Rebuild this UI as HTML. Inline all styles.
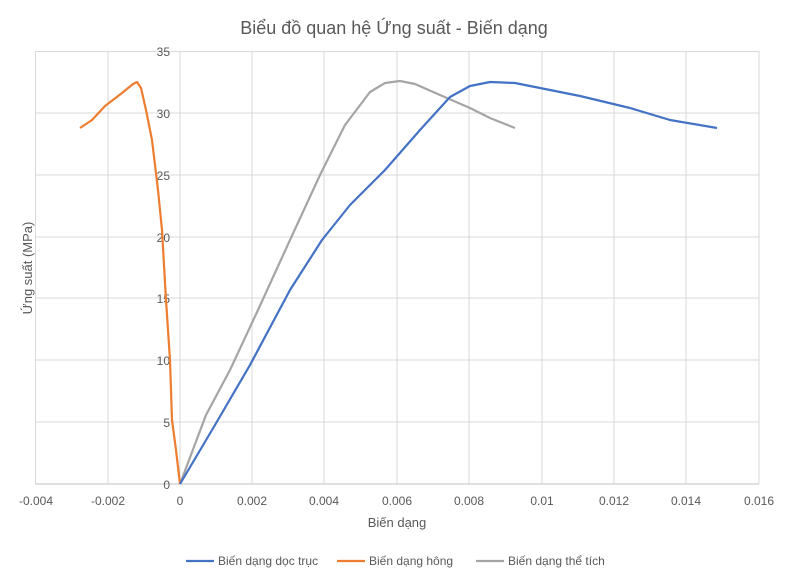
<!DOCTYPE html>
<html><head><meta charset="utf-8"><style>
body{margin:0;background:#fff;}
svg text{font-family:"Liberation Sans",sans-serif;fill:#595959;}
</style></head><body>
<svg width="788" height="579" xmlns="http://www.w3.org/2000/svg">
<rect width="788" height="579" fill="#fff"/>
<text x="394" y="34" font-size="18" text-anchor="middle">Biểu đồ quan hệ Ứng suất - Biến dạng</text>
<g stroke="#d9d9d9" stroke-width="1">
<line x1="35.5" y1="51" x2="35.5" y2="484"/><line x1="108" y1="51" x2="108" y2="484"/>
<line x1="252" y1="51" x2="252" y2="484"/><line x1="324" y1="51" x2="324" y2="484"/>
<line x1="397" y1="51" x2="397" y2="484"/><line x1="469" y1="51" x2="469" y2="484"/>
<line x1="542" y1="51" x2="542" y2="484"/><line x1="614" y1="51" x2="614" y2="484"/>
<line x1="686" y1="51" x2="686" y2="484"/><line x1="759" y1="51" x2="759" y2="484"/>
<line x1="35" y1="51.5" x2="759" y2="51.5"/><line x1="35" y1="113" x2="759" y2="113"/>
<line x1="35" y1="175" x2="759" y2="175"/><line x1="35" y1="237" x2="759" y2="237"/>
<line x1="35" y1="298" x2="759" y2="298"/><line x1="35" y1="360" x2="759" y2="360"/>
<line x1="35" y1="422" x2="759" y2="422"/>
<line x1="180" y1="51" x2="180" y2="484"/>
</g>
<line x1="35" y1="484" x2="759" y2="484" stroke="#bfbfbf"/>
<g font-size="12" text-anchor="end">
<text x="170" y="56">35</text><text x="170" y="118">30</text><text x="170" y="180">25</text>
<text x="170" y="242">20</text><text x="170" y="303">15</text><text x="170" y="365">10</text>
<text x="170" y="427">5</text><text x="170" y="489">0</text>
</g>
<g font-size="12" text-anchor="middle">
<text x="36" y="505">-0.004</text><text x="108" y="505">-0.002</text><text x="180" y="505">0</text>
<text x="252" y="505">0.002</text><text x="324" y="505">0.004</text><text x="397" y="505">0.006</text>
<text x="469" y="505">0.008</text><text x="542" y="505">0.01</text><text x="614" y="505">0.012</text>
<text x="686" y="505">0.014</text><text x="759" y="505">0.016</text>
</g>
<text x="397" y="527" font-size="13" text-anchor="middle">Biến dạng</text>
<text transform="translate(32,268) rotate(-90)" font-size="13" text-anchor="middle">Ứng suất (MPa)</text>
<g fill="none" stroke-width="2.2" stroke-linejoin="round">
<polyline stroke="#a5a5a5" points="180,484 206,415 230,370 258,310 290,240 320,175 345,125 370,92 385,83 400,81 415,84 440,95 470,108 490,118 515,128"/>
<polyline stroke="#ed7d31" points="80,128 92,120 105,106 122,93 133,84 137,82 141,88 146,110 152,140 158,190 162,230 166,300 170,360 172,420 176,450 180,484"/>
<polyline stroke="#4472c4" points="180,484 215,425 250,365 290,290 322,240 350,205 385,170 420,130 450,97 470,86 490,82 515,83 540,88 580,96 630,108 670,120 717,128"/>
</g>
<g font-size="12">
<line x1="186" y1="561" x2="214" y2="561" stroke="#4472c4" stroke-width="2.2"/>
<text x="218" y="565">Biến dạng dọc trục</text>
<line x1="337" y1="561" x2="365" y2="561" stroke="#ed7d31" stroke-width="2.2"/>
<text x="369" y="565">Biến dạng hông</text>
<line x1="476" y1="561" x2="504" y2="561" stroke="#a5a5a5" stroke-width="2.2"/>
<text x="508" y="565">Biến dạng thể tích</text>
</g>
</svg>
</body></html>
